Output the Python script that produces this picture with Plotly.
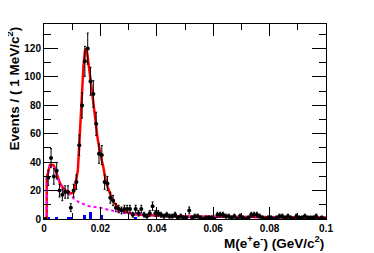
import plotly.graph_objects as go
import numpy as np

# ---- data ----
bin_width = 0.001
bin_centers = [round(0.0005 + bin_width * i, 4) for i in range(100)]
counts = [0, 29, 43, 30, 34, 20, 17, 19, 19, 8,
          20, 26, 52, 80, 111, 120, 97, 88, 67, 46,
          45, 26, 25, 15, 13, 8, 7, 6, 7, 7,
          7, 3, 7, 4, 7, 3, 2, 4, 9, 4,
          4, 3, 2, 3, 2, 2, 3, 1, 2, 1,
          1, 6, 1, 2, 2, 1, 0, 1, 1, 1,
          0, 3, 3, 3, 2, 2, 1, 2, 0, 2,
          1, 0, 1, 3, 3, 3, 2, 1, 0, 1,
          1, 0, 1, 2, 2, 1, 2, 1, 0, 2,
          1, 1, 2, 1, 1, 1, 2, 0, 1, 0]
count_err = list(np.sqrt(counts))

# total fit (red)
fit_x = [0.0, 0.00096, 0.00097, 0.0021, 0.0033, 0.0039, 0.0045, 0.0051, 0.0057,
         0.0065, 0.0074, 0.0087, 0.0096, 0.0104, 0.0110, 0.0116, 0.0120, 0.0125,
         0.0130, 0.0135, 0.0140, 0.0145, 0.0149, 0.0155, 0.0160, 0.0165, 0.0170,
         0.0175, 0.0180, 0.0184, 0.0190, 0.0195, 0.0200, 0.0205, 0.0210, 0.0215,
         0.0220, 0.0225, 0.0230, 0.0240, 0.0250, 0.0260, 0.0270, 0.0280, 0.0300,
         0.0320, 0.0350, 0.0400, 0.0500, 0.0600, 0.0800, 0.1000]
fit_y = [0, 0, 29, 38, 38, 35.7, 32, 27.5, 25,
         22.7, 20.4, 19.2, 18, 18.5, 22.7, 29.8, 34, 52,
         74, 93, 108, 118, 120, 114, 107, 99, 90,
         82, 72, 65, 57, 51, 45, 41, 37, 31,
         26, 23, 20, 15, 11, 8.5, 6.8, 5.5, 4.2,
         3.4, 2.8, 2.3, 1.8, 1.5, 1.2, 1.0]

# background component (magenta dotted)
bkg_x = [0.0, 0.00096, 0.00097, 0.0021, 0.0033, 0.0039, 0.0045, 0.0051, 0.0057,
         0.0065, 0.0074, 0.0087, 0.0096, 0.0110, 0.0128, 0.0157, 0.0198, 0.0233,
         0.0292, 0.0350, 0.0400, 0.0500, 0.0600, 0.0800, 0.1000]
bkg_y = [0, 0, 28, 37, 37, 35, 31, 27, 24.5,
         22, 19.5, 17.5, 16.5, 13.5, 11.5, 9.2, 8.0, 6.3,
         4.0, 3.0, 2.4, 1.8, 1.5, 1.2, 1.0]

# peaking background histogram (blue)
peak_x = [0.0005, 0.0015, 0.0045, 0.0085, 0.0095, 0.0145, 0.0165, 0.0205, 0.0325]
peak_y = [1, 1, 0.8, 1, 1, 3, 5, 3, 1]

x_ticks = [0, 0.02, 0.04, 0.06, 0.08, 0.1]
x_ticktext = ["0", "0.02", "0.04", "0.06", "0.08", "0.1"]
y_ticks = [0, 20, 40, 60, 80, 100, 120]

FONT = "Liberation Sans, Arial, sans-serif"

fig = go.Figure()
fig.add_trace(go.Bar(x=peak_x, y=peak_y, width=bin_width,
                     marker=dict(color="#0000ff", line=dict(width=0)),
                     showlegend=False))
fig.add_trace(go.Scatter(x=fit_x, y=fit_y, mode="lines",
                         line=dict(color="#ff0000", width=2.5),
                         showlegend=False))
fig.add_trace(go.Scatter(x=bkg_x, y=bkg_y, mode="lines",
                         line=dict(color="#ff00ff", width=2, dash="dot"),
                         showlegend=False))
fig.add_trace(go.Scatter(x=bin_centers, y=counts, mode="markers",
                         marker=dict(color="black", size=4),
                         error_y=dict(type="data", array=count_err, color="black",
                                      thickness=1, width=1),
                         error_x=dict(type="constant", value=bin_width / 2,
                                      color="black", thickness=1, width=0),
                         showlegend=False))

# the page body adds an 8px offset: figure size/margins chosen so the plot
# area lands at x 44..326, y 24..219 of the 374x253 window
fig.update_layout(
    width=366, height=245,
    margin=dict(l=36, r=48, t=16, b=34),
    plot_bgcolor="white", paper_bgcolor="white",
    font=dict(family=FONT, size=10, color="black"),
    bargap=0,
    xaxis=dict(range=[0, 0.1], tickvals=x_ticks, ticktext=x_ticktext,
               ticks="inside", ticklen=12, tickcolor="black", tickwidth=1,
               minor=dict(dtick=0.01, ticks="inside", ticklen=6, tickcolor="black"),
               showline=True, linecolor="black", linewidth=1, mirror="ticks",
               showgrid=False, zeroline=False, automargin=False,
               tickfont=dict(family=FONT, size=10, color="black", weight="bold")),
    yaxis=dict(range=[0, 137.3], tickvals=y_ticks,
               ticks="inside", ticklen=14, tickcolor="black", tickwidth=1,
               minor=dict(dtick=10, ticks="inside", ticklen=7, tickcolor="black"),
               showline=True, linecolor="black", linewidth=1, mirror="ticks",
               showgrid=False, zeroline=False, automargin=False,
               tickfont=dict(family=FONT, size=10, color="black", weight="bold")),
    annotations=[
        dict(text="<b>Events / ( 1 MeV/c<sup>2</sup>)</b>", textangle=-90,
             xref="paper", yref="paper", x=-0.11, y=0.997,
             xanchor="center", yanchor="top", showarrow=False,
             font=dict(family=FONT, size=13.5, color="black")),
        dict(text="<b>M(e<sup>+</sup>e<sup>-</sup>) (GeV/c<sup>2</sup>)</b>",
             xref="paper", yref="paper", x=1.0, y=-0.118,
             xanchor="right", yanchor="middle", showarrow=False,
             font=dict(family=FONT, size=13.5, color="black")),
    ],
)

fig.write_html("out.html")
